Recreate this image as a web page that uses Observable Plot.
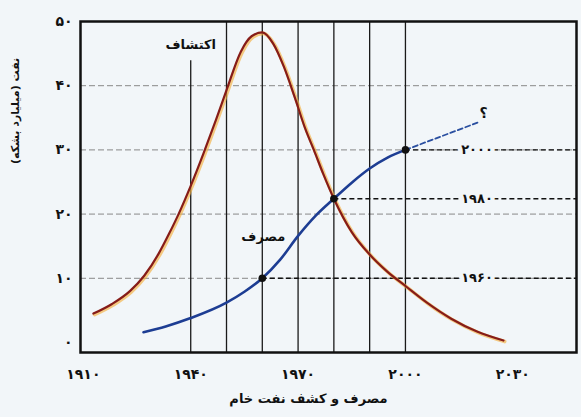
<!DOCTYPE html>
<html>
<head>
<meta charset="utf-8">
<script src="https://cdn.jsdelivr.net/npm/d3@7"></script>
<script src="https://cdn.jsdelivr.net/npm/@observablehq/plot@0.6"></script>
<style>
  html, body { margin: 0; padding: 0; background: #f2f6f9; }
</style>
</head>
<body>
<div id="chart"></div>
<script>
// ---- data ----
const xTicks = [1910, 1940, 1970, 2000, 2030];
const yTicks = [0, 10, 20, 30, 40, 50];
const gridY = [10, 20, 30, 40];
const gridX = [1950, 1960, 1970, 1980, 1990, 2000];
const discoveryYears  = [1912.8, 1918, 1923, 1927, 1931, 1934, 1936.6, 1940, 1943.6, 1947, 1950, 1954, 1957, 1960, 1963, 1966, 1969, 1972, 1974.4, 1977, 1980, 1985, 1990, 1995, 2000, 2006, 2012.8, 2020, 2027.4];
const discoveryValues = [4.5, 6.0, 8.0, 10.4, 13.8, 17.0, 20, 24.4, 29.5, 34.6, 39.3, 45.3, 47.7, 48.3, 46.6, 43, 38.3, 33.3, 30, 26.3, 22.4, 17.2, 13.7, 11, 8.8, 6.2, 3.7, 1.7, 0.3];
const consumptionYears  = [1926.8, 1933, 1940, 1950, 1955, 1960, 1965, 1970, 1975, 1980, 1985, 1990, 1995, 2000];
const consumptionValues = [1.6, 2.5, 3.8, 6.2, 7.9, 10, 12.9, 16.6, 19.8, 22.4, 24.9, 27.1, 28.8, 30];
const forecastYears  = [2000, 2020.4];
const forecastValues = [30, 34.3];
const markedYears  = [1960, 1980, 2000];
const markedValues = [10, 22.4, 30];
const labels = {
  yTitle: "نفت (میلیارد بشکه)",
  xTitle: "مصرف و کشف نفت خام",
  discovery: "اکتشاف",
  consumption: "مصرف",
  question: "؟"
};

const fa = n => String(n).replace(/\d/g, d => "۰۱۲۳۴۵۶۷۸۹"[d]);
const xDomain = [1909.2, 2047.8];
const yDomain = [-1.56, 50];

const discovery = discoveryYears.map((x, i) => ({x, y: discoveryValues[i]}));
const consumption = consumptionYears.map((x, i) => ({x, y: consumptionValues[i]}));
const forecast = forecastYears.map((x, i) => ({x, y: forecastValues[i]}));
const marked = markedYears.map((x, i) => ({x, y: markedValues[i]}));

const bg = "#f2f6f9";
const font = "DejaVu Sans";

const chart = Plot.plot({
  width: 581,
  height: 417,
  marginLeft: 80,
  marginRight: 5,
  marginTop: 21,
  marginBottom: 65,
  style: {background: bg, fontFamily: font, fontSize: "14px", fontWeight: "bold", color: "#111"},
  x: {domain: xDomain, ticks: xTicks, tickFormat: fa, tickSize: 0, tickPadding: 17, label: null},
  y: {domain: yDomain, ticks: yTicks, tickFormat: fa, tickSize: 0, tickPadding: 8, label: null},
  marks: [
    Plot.ruleY(gridY, {stroke: "#888", strokeWidth: 1, strokeDasharray: "6,3"}),
    Plot.ruleX(gridX, {stroke: "#1a1a1a", strokeWidth: 1.3}),
    Plot.ruleX([1940], {y1: 43.9, y2: yDomain[0], stroke: "#1a1a1a", strokeWidth: 1.3}),
    Plot.ruleY(marked, {x1: "x", x2: xDomain[1], y: "y", stroke: "#111", strokeWidth: 1.4, strokeDasharray: "5,3"}),
    Plot.text(marked, {x: 2020, y: "y", text: d => fa(d.x), fill: "#111", stroke: bg, strokeWidth: 9, fontSize: 13, fontWeight: "bold"}),
    Plot.line(discovery, {x: "x", y: "y", curve: "monotone-x", stroke: "#f5b041", strokeWidth: 3.6, strokeOpacity: 0.65, dx: 1.2, dy: 1}),
    Plot.line(discovery, {x: "x", y: "y", curve: "monotone-x", stroke: "#861c18", strokeWidth: 2.2}),
    Plot.line(consumption, {x: "x", y: "y", curve: "monotone-x", stroke: "#1d3d93", strokeWidth: 2.6}),
    Plot.line(forecast, {x: "x", y: "y", stroke: "#2a4fa0", strokeWidth: 1.8, strokeDasharray: "5,3"}),
    Plot.dot(marked, {x: "x", y: "y", r: 3.8, fill: "#111", stroke: "none"}),
    Plot.text([labels.discovery], {x: 1940, y: 46.4, text: d => d, fontSize: 13, fontWeight: "bold", fill: "#111"}),
    Plot.text([labels.consumption], {x: 1960.3, y: 16.4, text: d => d, fontSize: 13, fontWeight: "bold", fill: "#111"}),
    Plot.text([labels.question], {x: 2021.8, y: 35.7, text: d => d, fontSize: 14, fontWeight: "bold", fill: "#111"}),
    Plot.text([labels.yTitle], {frameAnchor: "left", rotate: -90, dx: -65, dy: -23, text: d => d, fontSize: 11, fontWeight: "bold", fill: "#111"}),
    Plot.text([labels.xTitle], {frameAnchor: "bottom", dx: -20, dy: 50, text: d => d, fontSize: 13, fontWeight: "bold", fill: "#111"}),
    Plot.frame({stroke: "#111", strokeWidth: 2.5})
  ]
});
document.getElementById("chart").appendChild(chart);
</script>
</body>
</html>
